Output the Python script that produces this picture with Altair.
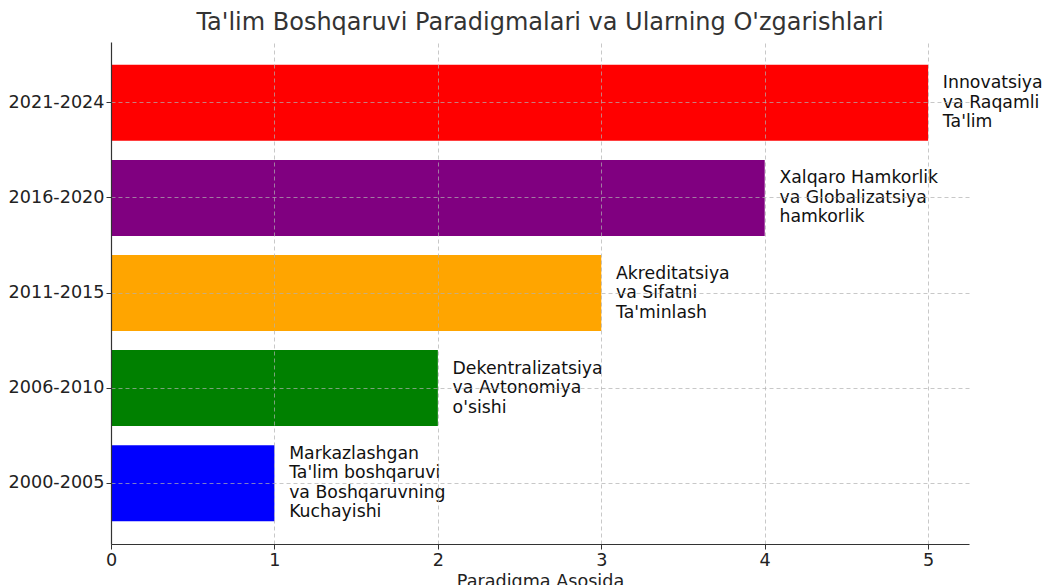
import altair as alt
import pandas as pd

periods = ["2000-2005", "2006-2010", "2011-2015", "2016-2020", "2021-2024"]
values = [1, 2, 3, 4, 5]
colors = ["#0000ff", "#008000", "#ffa500", "#800080", "#ff0000"]
labels = [
    "Markazlashgan\nTa'lim boshqaruvi\nva Boshqaruvning\nKuchayishi",
    "Dekentralizatsiya\nva Avtonomiya\no'sishi",
    "Akreditatsiya\nva Sifatni\nTa'minlash",
    "Xalqaro Hamkorlik\nva Globalizatsiya\nhamkorlik",
    "Innovatsiya\nva Raqamli\nTa'lim",
]
label_offset = 0.09

df = pd.DataFrame({"period": periods, "value": values, "label": labels})
df["label_x"] = df["value"] + label_offset
df["nlines"] = df["label"].str.count("\n") + 1

FONT = "DejaVu Sans"
LH = 19.5
sort_order = list(reversed(periods))

grid_kw = dict(grid=True, gridDash=[4, 3], gridColor="#b0b0b0", gridOpacity=0.7,
               tickSize=5, tickColor="#333", domainColor="#333", domainWidth=1.2,
               labelColor="#222", labelFontSize=17.6, zindex=1)

y_enc = alt.Y(
    "period:N",
    sort=sort_order,
    scale=alt.Scale(paddingInner=0.2, paddingOuter=0.24),
    axis=alt.Axis(title=None, labelPadding=2, **grid_kw),
)
x_scale = alt.Scale(domain=[0, 5.25], nice=False, zero=True)

bars = alt.Chart(df).mark_bar(size=76).encode(
    y=y_enc,
    x=alt.X("value:Q", scale=x_scale,
            axis=alt.Axis(title="Paradigma Asosida", values=[0, 1, 2, 3, 4, 5], format="d",
                          labelFlush=False, titleFontSize=17.6,
                          titleColor="#222", titleFontWeight="normal", titlePadding=4,
                          **grid_kw)),
    color=alt.Color("period:N", scale=alt.Scale(domain=periods, range=colors), legend=None),
)

text_layers = []
for n in sorted(df["nlines"].unique()):
    text_layers.append(
        alt.Chart(df).transform_filter(alt.datum.nlines == int(n)).mark_text(
            align="left", baseline="middle", lineBreak="\n", fontSize=17.3, font=FONT,
            color="#111", lineHeight=LH, dy=-(int(n) - 1) * LH / 2,
        ).encode(
            y=alt.Y("period:N", sort=sort_order),
            x=alt.X("label_x:Q", scale=x_scale),
            text="label:N",
        )
    )

chart = alt.layer(bars, *text_layers).properties(
    width=858, height=502,
    title=alt.TitleParams("Ta'lim Boshqaruvi Paradigmalari va Ularning O'zgarishlari",
                          fontSize=24, font=FONT, fontWeight="normal", color="#333", offset=7),
    autosize=alt.AutoSizeParams(type="none"),
    padding={"left": 103, "top": 34, "right": 73, "bottom": 42},
).configure(font=FONT).configure_view(stroke=None)

chart.save("out.html", embed_options={"renderer": "svg", "actions": False})
